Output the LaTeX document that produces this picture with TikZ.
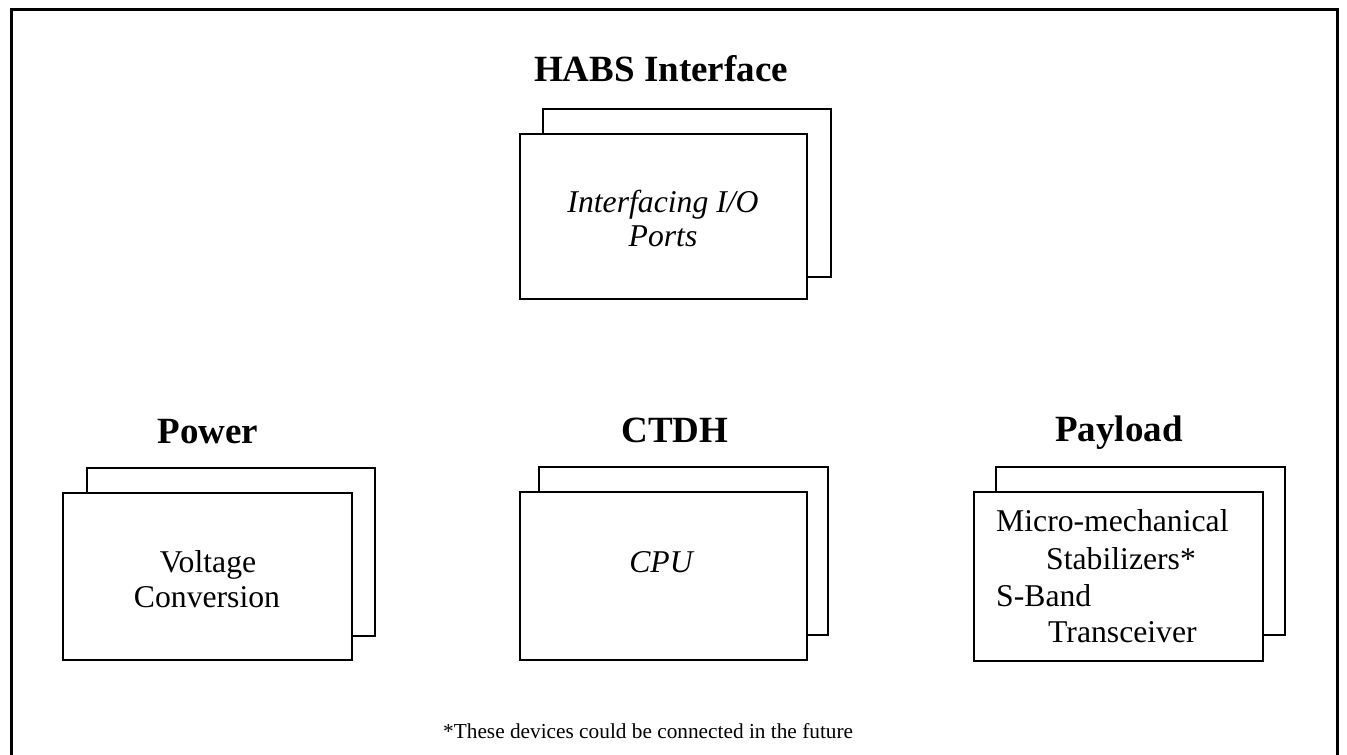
\documentclass[tikz,border=0pt]{standalone}
\usepackage{fontspec}
\setmainfont{Liberation Serif}
\begin{document}
\begin{tikzpicture}[x=1pt,y=-1pt,
  boxline/.style={draw=black,line width=1.8pt,fill=white},
  title/.style={font=\fontsize{37}{44}\selectfont\bfseries,anchor=base,inner sep=0pt},
  body/.style={font=\fontsize{31.7}{36}\selectfont,anchor=base,inner sep=0pt},
  bodyl/.style={font=\fontsize{31.7}{36}\selectfont,anchor=base west,inner sep=0pt},
  foot/.style={font=\fontsize{21.3}{25}\selectfont,anchor=base west,inner sep=0pt}]
\useasboundingbox (0,0) rectangle (1347,755);
\fill[white] (0,0) rectangle (1347,755);
% outer frame
\draw[line width=3pt] (11.5,770) -- (11.5,9.5) -- (1337.5,9.5) -- (1337.5,770);

% HABS Interface
\node[title] (thabs) at (661,81) {HABS Interface};
\draw[boxline] (543,109) rectangle (831,277);
\draw[boxline] (520,134) rectangle (807,299);
\node[body] (habs1) at (663,212) {\itshape Interfacing I/O};
\node[body] (habs2) at (663,246) {\itshape Ports};

% Power
\node[title] (tpow) at (208,443) {Power};
\draw[boxline] (87,468) rectangle (375,636);
\draw[boxline] (63,493) rectangle (352,660);
\node[body] (pow1) at (208,572) {Voltage};
\node[body] (pow2) at (207,607) {Conversion};

% CTDH
\node[title] (tctdh) at (675,442) {CTDH};
\draw[boxline] (539,467) rectangle (828,635);
\draw[boxline] (520,492) rectangle (807,660);
\node[body] (cpu) at (661,572) {\itshape CPU};

% Payload
\node[title] (tpay) at (1119,441) {Payload};
\draw[boxline] (996,467) rectangle (1285,635);
\draw[boxline] (974,492) rectangle (1263,661);
\node[bodyl] (pay1) at (996,531) {Micro-mechanical};
\node[bodyl] (pay2) at (1046,569) {Stabilizers*};
\node[bodyl] (pay3) at (996,606) {S-Band};
\node[bodyl] (pay4) at (1048,642) {Transceiver};

% footnote
\node[foot] (fn) at (443,738) {*These devices could be connected in the future};
\end{tikzpicture}
\end{document}
